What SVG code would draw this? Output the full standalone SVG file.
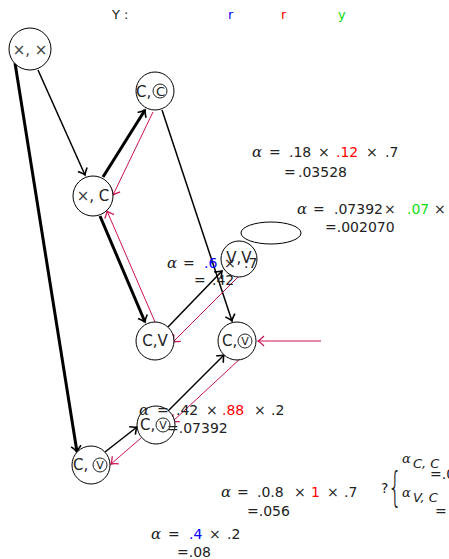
<svg xmlns="http://www.w3.org/2000/svg" width="449" height="559" viewBox="0 0 449 559">
<style>
text{font-family:"DejaVu Sans",sans-serif;font-size:14px;fill:#222}
.a{font-family:"DejaVu Serif",serif;font-style:italic;font-size:15px}
.nl{font-size:15px;fill:#222}
.r{fill:#ff0000}.b{fill:#0000ff}.g{fill:#11dd11}
circle.n{fill:#fff;stroke:#000;stroke-width:1}
circle.c{fill:none;stroke:#222;stroke-width:1}
.cl{font-size:11px;text-anchor:middle}
.e{fill:none;stroke:#000}
.er{fill:none;stroke:#cc1155;stroke-width:1}
</style>
<defs>
<marker id="ab" markerUnits="userSpaceOnUse" markerWidth="14" markerHeight="14" refX="0" refY="0" viewBox="-8 -7 10 14" orient="auto"><path d="M-6,-5 Q-2,-1 0,0 Q-2,1 -6,5" fill="none" stroke="#000" stroke-width="1.6"/></marker>
<marker id="ar" markerUnits="userSpaceOnUse" markerWidth="14" markerHeight="14" refX="0" refY="0" viewBox="-8 -7 10 14" orient="auto"><path d="M-6,-5 Q-2,-1 0,0 Q-2,1 -6,5" fill="none" stroke="#cc1155" stroke-width="1.3"/></marker>
</defs>
<g id="legend">
<text x="112" y="19" style="font-size:13px">Y :</text>
<text x="228" y="19" class="b" style="font-size:13px">r</text>
<text x="281" y="19" class="r" style="font-size:13px">r</text>
<text x="338" y="19" class="g" style="font-size:13px">y</text>
</g>
<g id="connectors">
<line class="e" x1="15" y1="63" x2="77" y2="452" stroke-width="3" marker-end="url(#ab)"/>
<line class="e" x1="38" y1="70" x2="85" y2="175" stroke-width="1.5" marker-end="url(#ab)"/>
<line class="e" x1="103" y1="177" x2="145" y2="110" stroke-width="3" marker-end="url(#ab)"/>
<line class="er" x1="153" y1="112" x2="113" y2="195" marker-end="url(#ar)"/>
<line class="e" x1="100" y1="216" x2="145" y2="322" stroke-width="3" marker-end="url(#ab)"/>
<line class="er" x1="155" y1="322" x2="107" y2="211" marker-end="url(#ar)"/>
<line class="e" x1="162" y1="110" x2="232" y2="321" stroke-width="1.5" marker-end="url(#ab)"/>
<line class="e" x1="168" y1="327" x2="222" y2="271" stroke-width="1.5" marker-end="url(#ab)"/>
<line class="er" x1="238" y1="277" x2="173" y2="342" marker-end="url(#ar)"/>
<line class="er" x1="321" y1="341" x2="258" y2="341" stroke-width="2" marker-end="url(#ar)"/>
<line class="e" x1="168" y1="411" x2="224" y2="355" stroke-width="1.5" marker-end="url(#ab)"/>
<line class="er" x1="242" y1="357" x2="172" y2="422" stroke-width="1.5" marker-end="url(#ar)"/>
<line class="e" x1="105" y1="452" x2="137" y2="427" stroke-width="1.5" marker-end="url(#ab)"/>
<line class="er" x1="141" y1="438" x2="111" y2="464" stroke-width="1.5" marker-end="url(#ar)"/>
</g>
<g id="n1"><circle class="n" cx="30" cy="49" r="21"/><text class="nl" x="30" y="55" text-anchor="middle" style="fill:#444">×, ×</text></g>
<g id="n2"><circle class="n" cx="155" cy="91" r="19"/><text class="nl" x="136" y="97">C,</text><circle class="c" cx="160" cy="91" r="7"/><text class="cl" x="160.5" y="95.5" style="font-size:13px">C</text></g>
<g id="n3"><circle class="n" cx="93" cy="196" r="20"/><text class="nl" x="93" y="201" text-anchor="middle"><tspan style="fill:#444">×</tspan>, C</text></g>
<g id="n4"><ellipse cx="271" cy="233" rx="30" ry="11" fill="none" stroke="#000" stroke-width="1"/><circle class="n" cx="239" cy="259" r="18"/><text class="nl" x="239" y="263" text-anchor="middle">V,V</text></g>
<g id="n5"><circle class="n" cx="155" cy="341" r="19"/><text class="nl" x="155" y="346" text-anchor="middle">C,V</text></g>
<g id="n6"><circle class="n" cx="237" cy="341" r="19"/><text class="nl" x="222" y="346">C,</text><circle class="c" cx="245" cy="341" r="7"/><text class="cl" x="245" y="345">V</text></g>
<g id="n7"><circle class="n" cx="156" cy="425" r="19"/><text class="nl" x="140" y="430">C,</text><circle class="c" cx="163" cy="425" r="7"/><text class="cl" x="163" y="429">V</text></g>
<g id="n8"><circle class="n" cx="91" cy="465" r="19"/><text class="nl" x="73" y="470">C,</text><circle class="c" cx="100" cy="465" r="7"/><text class="cl" x="100" y="469">V</text></g>
<g id="labels">
<text y="157"><tspan class="a" x="252">α</tspan><tspan x="269">=</tspan><tspan x="289">.18</tspan><tspan x="318">×</tspan><tspan x="336" class="r">.12</tspan><tspan x="366">×</tspan><tspan x="385">.7</tspan></text>
<text y="177"><tspan x="284">=</tspan><tspan x="298">.03528</tspan></text>
<text y="214"><tspan class="a" x="297">α</tspan><tspan x="313">=</tspan><tspan x="334">.07392</tspan><tspan x="384">×</tspan><tspan x="407" class="g">.07</tspan><tspan x="434">×</tspan></text>
<text x="325" y="232">=.002070</text>
<text y="268"><tspan class="a" x="167">α</tspan><tspan x="183">=</tspan><tspan x="204" class="b">.6</tspan><tspan x="224">×</tspan><tspan x="244">.7</tspan></text>
<text y="285"><tspan x="194">=</tspan><tspan x="212">.42</tspan></text>
<text y="415"><tspan class="a" x="139">α</tspan><tspan x="157">=</tspan><tspan x="176">.42</tspan><tspan x="206">×</tspan><tspan x="222" class="r">.88</tspan><tspan x="254">×</tspan><tspan x="271">.2</tspan></text>
<text x="167" y="433">=.07392</text>
<text y="497"><tspan class="a" x="221">α</tspan><tspan x="237">=</tspan><tspan x="257">.0.8</tspan><tspan x="294">×</tspan><tspan x="311" class="r">1</tspan><tspan x="327">×</tspan><tspan x="344">.7</tspan></text>
<text x="247" y="516">=.056</text>
<text y="539"><tspan class="a" x="151">α</tspan><tspan x="168">=</tspan><tspan x="189" class="b">.4</tspan><tspan x="209">×</tspan><tspan x="227">.2</tspan></text>
<text x="177" y="557">=.08</text>
<text x="381" y="493">?</text>
<text x="0" y="0" transform="translate(388,501) scale(0.55,1)" style="font-size:40px;font-weight:300">{</text>
<text y="463"><tspan class="a" x="402" style="font-size:13px">α</tspan><tspan x="413" y="468" style="font-size:13px;font-style:italic">C, C</tspan></text>
<text x="430" y="479">=.0</text>
<text y="497"><tspan class="a" x="402" style="font-size:13px">α</tspan><tspan x="413" y="502" style="font-size:13px;font-style:italic">V, C</tspan></text>
<text x="435" y="516">=</text>
</g>
</svg>
